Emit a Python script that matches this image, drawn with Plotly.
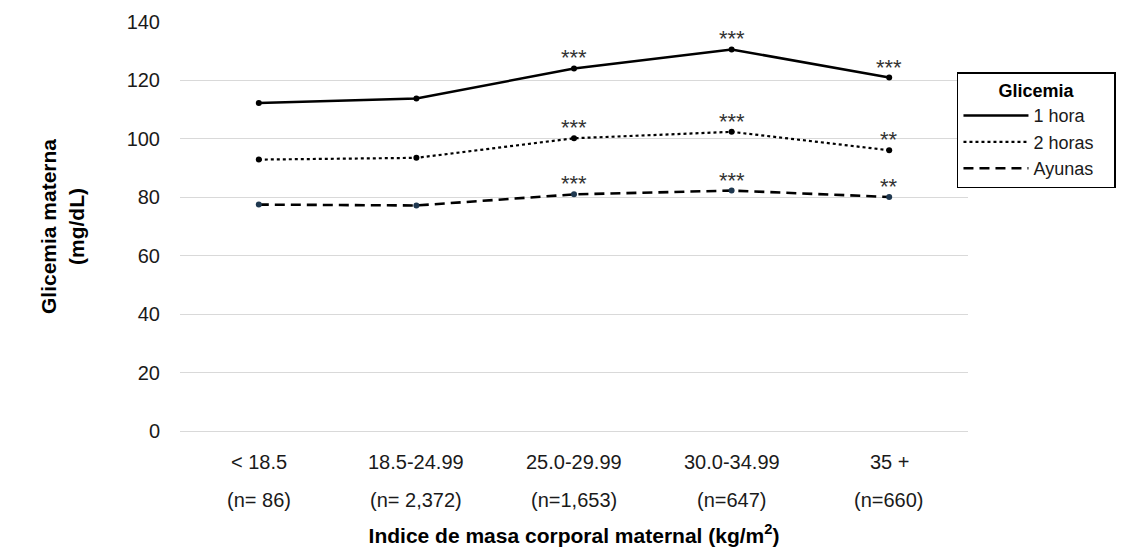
import plotly.graph_objects as go

categories = ["< 18.5", "18.5-24.99", "25.0-29.99", "30.0-34.99", "35 +"]
n_labels = ["(n= 86)", "(n= 2,372)", "(n=1,653)", "(n=647)", "(n=660)"]
hora1 = [112.3, 113.8, 124.1, 130.6, 121.0]
horas2 = [92.9, 93.5, 100.2, 102.4, 96.1]
ayunas = [77.5, 77.2, 81.0, 82.3, 80.1]
sig_hora1 = ["", "", "***", "***", "***"]
sig_horas2 = ["", "", "***", "***", "**"]
sig_ayunas = ["", "", "***", "***", "**"]
series_names = ["1 hora", "2 horas", "Ayunas"]

FONT = "Liberation Sans, Arial, sans-serif"
TXT = "#1a1a1a"
x = list(range(len(categories)))

styles = [
    dict(line=dict(color="black", width=2.5), marker=dict(size=6, color="black")),
    dict(line=dict(color="black", width=2.2, dash="dot"), marker=dict(size=6, color="black")),
    dict(line=dict(color="black", width=2.6, dash="10px,6px"), marker=dict(size=6, color="#1f3850")),
]

fig = go.Figure()
for ys, name, st in zip((hora1, horas2, ayunas), series_names, styles):
    fig.add_trace(go.Scatter(x=x, y=ys, name=name, mode="lines+markers",
                             line=st["line"], marker=st["marker"], showlegend=False))
# legend entries show line samples only
for name, st in zip(series_names, styles):
    fig.add_trace(go.Scatter(x=[None], y=[None], name=name + "&nbsp;" * 3, mode="lines",
                             line=st["line"], showlegend=True))

for ys, sig in ((hora1, sig_hora1), (horas2, sig_horas2), (ayunas, sig_ayunas)):
    for xi, yi, s in zip(x, ys, sig):
        if s:
            fig.add_annotation(x=xi, y=yi, text=s, showarrow=False, yanchor="bottom",
                               yshift=-4, font=dict(family=FONT, size=22, color="#333"))

for xi, c, n in zip(x, categories, n_labels):
    fig.add_annotation(x=xi, y=0, yref="paper", text=c, showarrow=False,
                       yanchor="middle", yshift=-31,
                       font=dict(family=FONT, size=20, color=TXT))
    fig.add_annotation(x=xi, y=0, yref="paper", text=n, showarrow=False,
                       yanchor="middle", yshift=-69,
                       font=dict(family=FONT, size=20, color=TXT))

fig.update_layout(
    width=1134, height=556,
    margin=dict(l=180, r=166, t=22, b=125),
    plot_bgcolor="white", paper_bgcolor="white",
    font=dict(family=FONT, size=20, color=TXT),
    showlegend=True,
    legend=dict(x=0.986, y=0.877, xanchor="left", yanchor="top",
                bordercolor="black", borderwidth=1.5, bgcolor="white",
                title=dict(text="<b>Glicemia</b>", side="top center",
                           font=dict(family=FONT, size=18, color="black")),
                font=dict(family=FONT, size=18, color=TXT),
                tracegroupgap=0, itemwidth=65),
    xaxis=dict(range=[-0.5, 4.5], showticklabels=False, showgrid=False,
               zeroline=False, showline=False, fixedrange=True,
               title=dict(text="<b>Indice de masa corporal maternal (kg/m<sup>2</sup>)</b>",
                          font=dict(family=FONT, size=21, color="black"), standoff=97)),
    yaxis=dict(range=[0, 140], dtick=20, showgrid=True, gridcolor="#d9d9d9",
               gridwidth=1, zeroline=True, zerolinecolor="#d9d9d9", zerolinewidth=1,
               showline=False, ticks="outside", ticklen=15, tickcolor="rgba(0,0,0,0)",
               tickfont=dict(family=FONT, size=20, color=TXT),
               title=dict(text="<b>Glicemia materna<br>(mg/dL)</b>",
                          font=dict(family=FONT, size=21, color="black"), standoff=36)),
)

fig.write_html("out.html")
